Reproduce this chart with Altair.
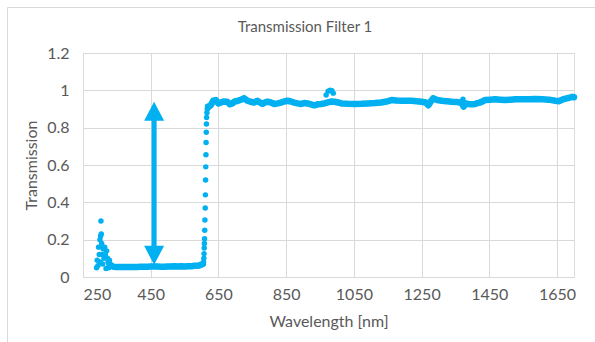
import altair as alt
import pandas as pd

# ---- data ----
chart_title = ["Transmission Filter 1"]

spike_w = [290, 292, 294, 296, 298, 300, 301, 302, 303, 304, 305, 306, 307, 308, 310,
           312, 314, 316, 318, 320, 322, 324, 326, 328]
spike_v = [0.05, 0.09, 0.06, 0.16, 0.12, 0.20, 0.08, 0.22, 0.30, 0.23, 0.18, 0.12, 0.16,
           0.07, 0.15, 0.10, 0.16, 0.12, 0.045, 0.14, 0.10, 0.08, 0.05, 0.09]

low_w = [328, 335, 340, 350, 360, 370, 380, 390, 400, 410, 420, 430, 440, 450, 460, 470,
         480, 490, 500, 510, 520, 530, 540, 550, 560, 570, 580, 590, 598, 604]
low_v = [0.07, 0.06, 0.055, 0.053, 0.053, 0.053, 0.054, 0.053, 0.054, 0.054, 0.055, 0.055,
         0.055, 0.056, 0.056, 0.056, 0.055, 0.055, 0.056, 0.056, 0.057, 0.056, 0.058, 0.056,
         0.058, 0.058, 0.06, 0.06, 0.065, 0.07]

step_w = [606, 607, 607.5, 608, 608.5, 609, 609.5, 610, 611, 611.5, 612, 612.5, 613, 613.5,
          614, 614.5, 615, 616, 617, 618]
step_v = [0.08, 0.10, 0.125, 0.155, 0.18, 0.205, 0.25, 0.305, 0.37, 0.44, 0.52, 0.59, 0.655,
          0.72, 0.775, 0.82, 0.855, 0.88, 0.90, 0.915]

high_w = [620, 627, 635, 642, 650, 656, 665, 676, 684, 691, 698, 706, 716, 726, 735, 745,
          755, 765, 772, 780, 788, 795, 805, 815, 825, 834, 844, 854, 864, 874, 884, 894,
          904, 913, 923, 933, 943, 953, 963, 973, 983, 993, 1003, 1013, 1033, 1052, 1072,
          1092, 1112, 1131, 1146, 1161, 1176, 1191, 1206, 1220, 1235, 1250, 1262, 1270,
          1277, 1284, 1296, 1309, 1324, 1339, 1354, 1368, 1374, 1380, 1388, 1398, 1408,
          1423, 1438, 1452, 1467, 1482, 1497, 1512, 1527, 1546, 1566, 1586, 1606, 1626,
          1645, 1655, 1665, 1675, 1685, 1695, 1700]
high_v = [0.91, 0.92, 0.945, 0.948, 0.93, 0.934, 0.94, 0.939, 0.925, 0.93, 0.94, 0.943, 0.95,
          0.957, 0.945, 0.939, 0.935, 0.944, 0.935, 0.927, 0.935, 0.939, 0.935, 0.927, 0.93,
          0.934, 0.94, 0.944, 0.94, 0.934, 0.93, 0.927, 0.932, 0.93, 0.925, 0.92, 0.925,
          0.927, 0.93, 0.935, 0.94, 0.939, 0.935, 0.93, 0.928, 0.927, 0.928, 0.93, 0.932,
          0.935, 0.94, 0.948, 0.945, 0.944, 0.944, 0.944, 0.942, 0.939, 0.935, 0.92, 0.94,
          0.957, 0.948, 0.944, 0.942, 0.939, 0.937, 0.934, 0.913, 0.93, 0.927, 0.925, 0.927,
          0.935, 0.948, 0.95, 0.952, 0.95, 0.948, 0.95, 0.952, 0.952, 0.952, 0.953, 0.952,
          0.95, 0.944, 0.942, 0.95, 0.955, 0.96, 0.965, 0.963]

glitch_w = [968, 974, 980, 985, 989, 1372, 1376]
glitch_v = [0.975, 0.995, 1.0, 0.998, 0.985, 0.952, 0.92]

arrow_x = [460]
arrow_low = [0.116]
arrow_high = [0.888]

x_ticks = [250, 450, 650, 850, 1050, 1250, 1450, 1650]
y_ticks = [0, 0.2, 0.4, 0.6, 0.8, 1, 1.2]

BLUE = "#00B0F0"
FONT = "Lato"
GREY = "#595959"

def frame(ws, vs, seg):
    return pd.DataFrame({"w": ws, "v": vs, "seg": seg})

lines_df = pd.concat([frame(low_w, low_v, "low"), frame(high_w, high_v, "high")])
dots_df = pd.concat([
    frame(spike_w, spike_v, "spike"), frame(low_w, low_v, "low"),
    frame(step_w, step_v, "step"), frame(high_w, high_v, "high"),
    frame(glitch_w, glitch_v, "glitch"),
])
arrow_df = pd.DataFrame({"w": arrow_x, "lo": arrow_low, "hi": arrow_high})
title_df = pd.DataFrame({"t": chart_title})

xs = alt.Scale(domain=[250, 1700], nice=False, zero=False)
ys = alt.Scale(domain=[0, 1.2], nice=False, zero=False)

axis_style = dict(
    domain=False, ticks=False, tickSize=0, grid=True, gridColor="#d9d9d9", gridWidth=1,
    labelFont=FONT, labelFontSize=16, labelColor=GREY,
    titleFont=FONT, titleFontSize=16, titleColor=GREY, titleFontWeight="normal",
    labelOverlap=False,
)
x_axis = alt.Axis(values=x_ticks, format="d", labelPadding=9, titlePadding=11,
                  tickCount=8, **axis_style)
y_axis = alt.Axis(values=y_ticks, format="~g", labelPadding=14, titlePadding=7,
                  tickCount=7, **axis_style)

def X(field):
    return alt.X(field, type="quantitative", scale=xs, title="Wavelength [nm]", axis=x_axis)

def Y(field):
    return alt.Y(field, type="quantitative", scale=ys, title="Transmission", axis=y_axis)

lines = alt.Chart(lines_df).mark_line(
    color=BLUE, strokeWidth=6.5, strokeCap="round", strokeJoin="round"
).encode(x=X("w"), y=Y("v"), detail="seg:N")

dots = alt.Chart(dots_df).mark_circle(color=BLUE, size=30, opacity=1).encode(x=X("w"), y=Y("v"))

shaft = alt.Chart(arrow_df).mark_rule(color=BLUE, strokeWidth=5).encode(
    x=X("w"), y=Y("lo"), y2="hi:Q")
head_up = alt.Chart(arrow_df).mark_point(
    shape="M-1,0.95L0,-0.95L1,0.95Z", size=400, filled=True, color=BLUE, opacity=1, strokeWidth=0
).encode(x=X("w"), y=Y("hi"))
head_down = alt.Chart(arrow_df).mark_point(
    shape="M-1,-0.95L0,0.95L1,-0.95Z", size=400, filled=True, color=BLUE, opacity=1, strokeWidth=0
).encode(x=X("w"), y=Y("lo"))

border_top = alt.Chart(arrow_df).mark_rule(color="#d9d9d9", strokeWidth=1).encode(
    x=alt.value(-75.5), x2=alt.value(530), y=alt.value(-45.5))
border_left = alt.Chart(arrow_df).mark_rule(color="#d9d9d9", strokeWidth=1).encode(
    x=alt.value(-75.5), y=alt.value(-45.5), y2=alt.value(300))

title = alt.Chart(title_df).mark_text(
    font=FONT, fontSize=15, color=GREY, align="center", baseline="middle"
).encode(text="t:N", x=alt.value(222), y=alt.value(-26))

chart = alt.layer(lines, dots, shaft, head_up, head_down, border_top, border_left, title).properties(
    width=491, height=224,
    autosize=alt.AutoSizeParams(type="none"),
    padding={"left": 83, "top": 53, "right": 21, "bottom": 65},
).configure_view(
    stroke=GREY, strokeWidth=1.25
).configure(background="white")

chart.save("out.html", embed_options={"renderer": "svg", "actions": False})
